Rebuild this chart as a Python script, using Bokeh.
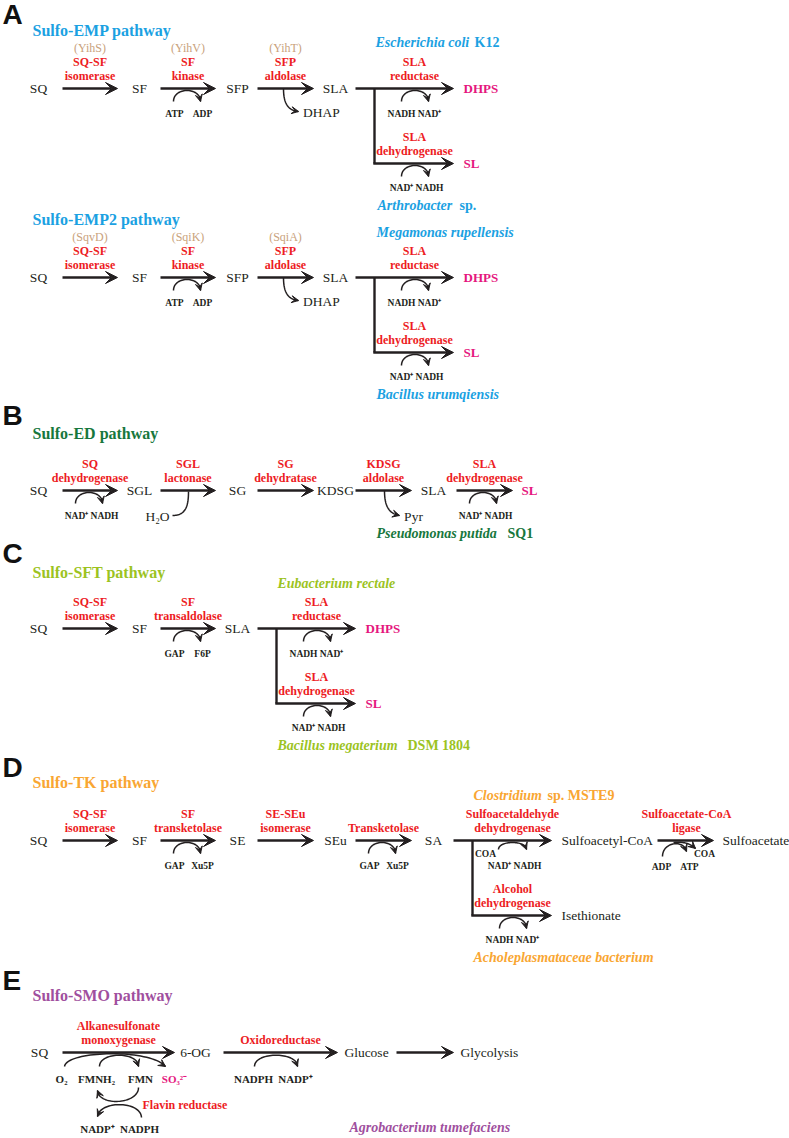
import numpy as np
from bokeh.plotting import figure
from bokeh.models import Range1d, Arrow, VeeHead
from bokeh.core.properties import value
from bokeh.embed import file_html
from bokeh.resources import INLINE

# ======================= DATA =======================
panel_letters = ["A", "B", "C", "D", "E"]
pathway_titles = ["Sulfo-EMP pathway", "Sulfo-EMP2 pathway", "Sulfo-ED pathway",
                  "Sulfo-SFT pathway", "Sulfo-TK pathway", "Sulfo-SMO pathway"]

# A : Sulfo-EMP / Sulfo-EMP2
emp_metabolites = ["SQ", "SF", "SFP", "SLA"]
emp_enzymes = [["SQ-SF", "isomerase"], ["SF", "kinase"], ["SFP", "aldolase"]]
emp_genes = ["(YihS)", "(YihV)", "(YihT)"]
emp2_genes = ["(SqvD)", "(SqiK)", "(SqiA)"]
emp_kinase_cofactors = ["ATP", "ADP"]
emp_aldolase_byproduct = "DHAP"
emp_organisms = [["Escherichia coli", "K12"], ["Arthrobacter", "sp."]]
emp2_organisms = [["Megamonas rupellensis", ""], ["Bacillus urumqiensis", ""]]

sla_branch_enzymes = [["SLA", "reductase"], ["SLA", "dehydrogenase"]]
sla_branch_products = ["DHPS", "SL"]
sla_branch_cofactors = [["NADH", "NAD\u207a"], ["NAD\u207a", "NADH"]]

# B : Sulfo-ED
ed_metabolites = ["SQ", "SGL", "SG", "KDSG", "SLA"]
ed_product = "SL"
ed_enzymes = [["SQ", "dehydrogenase"], ["SGL", "lactonase"], ["SG", "dehydratase"],
              ["KDSG", "aldolase"], ["SLA", "dehydrogenase"]]
ed_cofactors = [["NAD\u207a", "NADH"], ["NAD\u207a", "NADH"]]
ed_water = "H\u2082O"
ed_byproduct = "Pyr"
ed_organism = ["Pseudomonas putida", "SQ1"]

# C : Sulfo-SFT
sft_metabolites = ["SQ", "SF", "SLA"]
sft_enzymes = [["SQ-SF", "isomerase"], ["SF", "transaldolase"]]
sft_cofactors = ["GAP", "F6P"]
sft_organisms = [["Eubacterium rectale", ""], ["Bacillus megaterium", "DSM 1804"]]

# D : Sulfo-TK
tk_metabolites = ["SQ", "SF", "SE", "SEu", "SA"]
tk_enzymes = [["SQ-SF", "isomerase"], ["SF", "transketolase"], ["SE-SEu", "isomerase"],
              ["", "Transketolase"]]
tk_cofactors = ["GAP", "Xu5P"]
tk_branch_enzymes = [["Sulfoacetaldehyde", "dehydrogenase"], ["Alcohol", "dehydrogenase"]]
tk_branch_products = ["Sulfoacetyl-CoA", "Isethionate"]
tk_branch_cofactors = [["NAD\u207a", "NADH"], ["NADH", "NAD\u207a"]]
tk_coa = "COA"
tk_ligase = ["Sulfoacetate-CoA", "ligase"]
tk_ligase_cofactors = ["ADP", "ATP", "COA"]
tk_final = "Sulfoacetate"
tk_organisms = [["Clostridium", "sp. MSTE9"], ["Acholeplasmataceae bacterium", ""]]

# E : Sulfo-SMO
smo_metabolites = ["SQ", "6-OG", "Glucose", "Glycolysis"]
smo_enzymes = [["Alkanesulfonate", "monoxygenase"], ["", "Oxidoreductase"]]
smo_mono_cofactors = ["O\u2082", "FMNH\u2082", "FMN"]
smo_sulfite = "SO\u2083\u00b2\u207b"
smo_oxido_cofactors = ["NADPH", "NADP\u207a"]
smo_flavin_enzyme = "Flavin reductase"
smo_flavin_cofactors = ["NADP\u207a", "NADPH"]
smo_organism = "Agrobacterium tumefaciens"

# ======================= STYLE / LAYOUT =======================
BLACK = "#231F20"
RED = "#ED1C24"
TAN = "#C9A27C"
MAGENTA = "#E5177E"
BLUE = "#1BA1E2"
DGREEN = "#17773D"
LGREEN = "#9CC31F"
ORANGE = "#F9A632"
PURPLE = "#A04F9E"
SERIF = "Liberation Serif"
SANS = "Liberation Sans"

MET_X = [38, 139, 237, 335, 433, 529]
ARR_X = [(62, 117), (160, 215), (257, 313), (355, 411), (456, 512)]
SMO_X = [39, 195, 366, 489]
SMO_ARR = [(62, 174), (223, 337), (396, 453)]

p = figure(width=789, height=1138, x_range=Range1d(0, 789), y_range=Range1d(1138, 0),
           output_backend="svg", toolbar_location=None, min_border=0, title=None,
           x_axis_location=None, y_axis_location=None)
p.grid.visible = False
p.outline_line_color = None
p.background_fill_color = "white"
p.border_fill_color = "white"


def T(x, y, s, color=BLACK, size=13.5, style="normal", align="center", font=SERIF):
    if not s:
        return
    p.text(x=[x], y=[y], text=[s], text_color=color, text_font=value(font),
           text_font_size=f"{size}px", text_font_style=style,
           text_align=align, text_baseline="middle")


def met(x, y, s, align="center"):
    T(x, y, s, BLACK, 13.5, "normal", align)


def prod(x, y, s):
    T(x, y, s, MAGENTA, 13, "bold", "left")


def cof(x, y, s, size=9.5, color=BLACK):
    T(x, y, s, color, size, "bold")


def enz(xc, R, lines):
    T(xc, R - 12.5, lines[1], RED, 12, "bold")
    T(xc, R - 26.5, lines[0], RED, 12, "bold")


def arrow(x0, y0, x1, y1, lw=2.4, hs=12):
    p.add_layout(Arrow(end=VeeHead(size=hs, fill_color=BLACK, line_color=BLACK, line_width=1),
                       x_start=x0, y_start=y0, x_end=x1, y_end=y1,
                       line_width=lw, line_color=BLACK))


def seg(xs, ys, lw=2.4):
    p.line(xs, ys, line_width=lw, line_color=BLACK, line_join="miter")


def bez(P0, P1, P2, P3, head=True, lw=1.5, hs=7):
    t = np.linspace(0, 1, 41)[:, None]
    P = np.array([P0, P1, P2, P3], float)
    c = (1 - t) ** 3 * P[0] + 3 * (1 - t) ** 2 * t * P[1] + 3 * (1 - t) * t ** 2 * P[2] + t ** 3 * P[3]
    p.line(c[:, 0], c[:, 1], line_width=lw, line_color=BLACK)
    if head:
        a, b = c[-6], c[-1]
        p.add_layout(Arrow(end=VeeHead(size=hs, fill_color=BLACK, line_color=BLACK, line_width=1),
                           x_start=a[0], y_start=a[1], x_end=b[0], y_end=b[1], line_alpha=0))


def cof_arc(x0, x1, yb, peak):
    c = yb + (peak - yb) / 0.75
    bez((x0, yb), (x0, c), (x1, c), (x1, yb))


def arc_under(arr, R, labels, size=9.5):
    x0 = arr[0]
    cof_arc(x0 + 13, x0 + 40, R + 13, R + 2)
    cof(x0 + 14, R + 25, labels[0], size)
    cof(x0 + 42, R + 25, labels[1], size)


def org(x, y, it, reg, color, x_reg=None):
    T(x, y, it, color, 14, "bold italic", "left")
    if reg:
        T(x_reg, y, reg, color, 14, "bold", "left")


def branch(xv, R, enzymes, products, cofs, product_fn, upper_special=False):
    xs, xe, xc = xv - 19, xv + 79, xv + 40
    Rl = R + 75
    arrow(xs, R, xe, R)
    seg([xv, xv], [R, Rl])
    arrow(xv - 1.2, Rl, xe, Rl)
    enz(xc, R, enzymes[0])
    T(xc, Rl - 13, enzymes[1][1], RED, 12, "bold")
    T(xc, Rl - 27, enzymes[1][0], RED, 12, "bold")
    if upper_special:
        cof_arc(xv + 26, xv + 54, R + 9, R + 2)
    else:
        cof_arc(xv + 27, xv + 54, R + 13, R + 2)
    cof(xv + 27, R + 25, cofs[0][0])
    cof(xv + 55, R + 25, cofs[0][1])
    cof_arc(xv + 27, xv + 54, Rl + 13, Rl + 2)
    cof(xv + 27, Rl + 24, cofs[1][0])
    cof(xv + 55, Rl + 24, cofs[1][1])
    product_fn(xe + 10, R, products[0])
    product_fn(xe + 10, Rl, products[1])


def letter(y, s):
    T(2, y, s, "#111111", 28, "bold", "left", SANS)


def title(y, s, color):
    T(32, y, s, color, 16, "bold", "left")


# ======================= PANEL A =======================
def emp_panel(R, genes):
    for i, m in enumerate(emp_metabolites):
        met(MET_X[i], R, m)
    for i in range(3):
        x0, x1 = ARR_X[i]
        xc = (x0 + x1) / 2
        arrow(x0, R, x1, R)
        T(xc, R - 40.5, genes[i], TAN, 12, "normal")
        enz(xc, R, emp_enzymes[i])
    arc_under(ARR_X[1], R, emp_kinase_cofactors)
    x0 = ARR_X[2][0]
    bez((x0 + 26, R), (x0 + 26, R + 14), (x0 + 30, R + 22), (x0 + 41, R + 23))
    met(x0 + 64, R + 24, emp_aldolase_byproduct)
    branch(374, R, sla_branch_enzymes, sla_branch_products, sla_branch_cofactors, prod)


letter(14, panel_letters[0])
title(30, pathway_titles[0], BLUE)
emp_panel(88, emp_genes)
org(375, 42, emp_organisms[0][0], emp_organisms[0][1], BLUE, 474)
org(377, 205, emp_organisms[1][0], emp_organisms[1][1], BLUE, 459)

title(219, pathway_titles[1], BLUE)
emp_panel(277, emp2_genes)
org(376, 232, emp2_organisms[0][0], "", BLUE)
org(376, 394, emp2_organisms[1][0], "", BLUE)

# ======================= PANEL B =======================
R = 490
letter(415, panel_letters[1])
title(433, pathway_titles[2], DGREEN)
for i, m in enumerate(ed_metabolites):
    met(MET_X[i], R, m)
T(MET_X[5], R, ed_product, MAGENTA, 13, "bold")
for i in range(5):
    x0, x1 = ARR_X[i]
    arrow(x0, R, x1, R)
    enz((x0 + x1) / 2, R, ed_enzymes[i])
arc_under(ARR_X[0], R, ed_cofactors[0])
arc_under(ARR_X[4], R, ed_cofactors[1])
x0 = ARR_X[1][0]
met(x0 - 3, R + 26, ed_water)
bez((x0 + 12, R + 25), (x0 + 25, R + 25), (x0 + 28, R + 16), (x0 + 28, R + 1), head=False)
x0 = ARR_X[3][0]
bez((x0 + 29, R), (x0 + 29, R + 15), (x0 + 33, R + 23), (x0 + 44, R + 25))
met(x0 + 58, R + 26, ed_byproduct)
org(376, 533, ed_organism[0], ed_organism[1], DGREEN, 507)

# ======================= PANEL C =======================
R = 628
letter(553, panel_letters[2])
title(572, pathway_titles[3], LGREEN)
for i, m in enumerate(sft_metabolites):
    met(MET_X[i], R, m)
for i in range(2):
    x0, x1 = ARR_X[i]
    arrow(x0, R, x1, R)
    enz((x0 + x1) / 2, R, sft_enzymes[i])
arc_under(ARR_X[1], R, sft_cofactors)
branch(276, R, sla_branch_enzymes, sla_branch_products, sla_branch_cofactors, prod)
org(277, 583, sft_organisms[0][0], "", LGREEN)
org(277, 745, sft_organisms[1][0], sft_organisms[1][1], LGREEN, 407)

# ======================= PANEL D =======================
R = 840
letter(767, panel_letters[3])
title(782, pathway_titles[4], ORANGE)
for i, m in enumerate(tk_metabolites):
    met(MET_X[i], R, m)
for i in range(4):
    x0, x1 = ARR_X[i]
    arrow(x0, R, x1, R)
    enz((x0 + x1) / 2, R, tk_enzymes[i])
arc_under(ARR_X[1], R, tk_cofactors)
arc_under(ARR_X[3], R, tk_cofactors)
branch(472, R, tk_branch_enzymes, tk_branch_products, tk_branch_cofactors,
       lambda x, y, s: met(x, y, s, "left"), upper_special=True)
cof(485, R + 13, tk_coa)
# ligase step
lx0, lx1 = 657, 713
arrow(lx0, R, lx1, R)
enz((lx0 + lx1) / 2 + 1, R, tk_ligase)
bez((lx0 + 5, R + 16), (lx0 + 5, R + 1), (lx0 + 27, R - 1), (lx0 + 29, R + 11))
bez((lx0 + 16, R + 2), (lx0 + 26, R + 1), (lx0 + 33, R + 3), (lx0 + 38, R + 8))
cof(lx0 + 4, R + 26, tk_ligase_cofactors[0])
cof(lx0 + 32, R + 26, tk_ligase_cofactors[1])
cof(lx0 + 47, R + 13, tk_ligase_cofactors[2])
met(722, R, tk_final, "left")
org(473, 795, tk_organisms[0][0], tk_organisms[0][1], ORANGE, 547)
org(473, 957, tk_organisms[1][0], "", ORANGE)

# ======================= PANEL E =======================
R = 1052
letter(980, panel_letters[4])
title(995, pathway_titles[5], PURPLE)
for i, m in enumerate(smo_metabolites):
    met(SMO_X[i], R, m)
for (x0, x1) in SMO_ARR:
    arrow(x0, R, x1, R)
enz(118, R, smo_enzymes[0])
enz(280, R, smo_enzymes[1])
# monooxygenase cofactors
bez((64, R + 14), (66, R - 2), (150, R - 4), (165, R + 14))
bez((99, R + 14), (99, R - 1), (138, R - 1), (138, R + 14))
cof(61, R + 26, smo_mono_cofactors[0], 11)
cof(96, R + 26, smo_mono_cofactors[1], 11)
cof(140, R + 26, smo_mono_cofactors[2], 11)
cof(174, R + 26, smo_sulfite, 11, MAGENTA)
# oxidoreductase cofactors
bez((254, R + 14), (254, R - 1), (297, R - 1), (297, R + 14))
cof(253, R + 26, smo_oxido_cofactors[0], 11)
cof(295, R + 26, smo_oxido_cofactors[1], 11)
# flavin reductase cycle
bez((138, R + 35), (138, R + 52), (98, R + 54), (97, R + 38))
bez((141, R + 65), (140, R + 48), (99, R + 48), (97, R + 64))
T(142, R + 52, smo_flavin_enzyme, RED, 12, "bold", "left")
cof(97, R + 76, smo_flavin_cofactors[0], 11)
cof(139, R + 76, smo_flavin_cofactors[1], 11)
org(349, 1127, smo_organism, "", PURPLE)

open("out.html", "w").write(file_html(p, INLINE))
